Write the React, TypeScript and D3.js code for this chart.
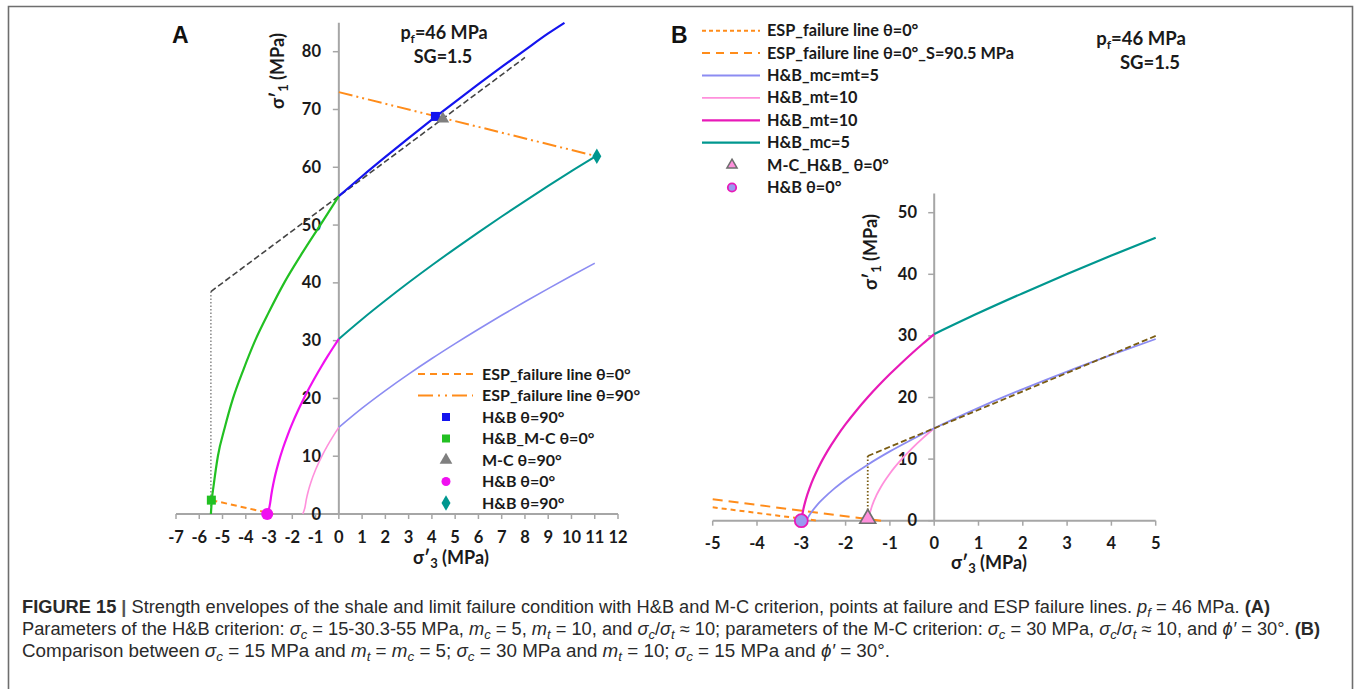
import React from "react";
import * as d3 from "d3";

type P = [number, number];

// ---------- ticks ----------
const xTicksA = [-7, -6, -5, -4, -3, -2, -1, 0, 1, 2, 3, 4, 5, 6, 7, 8, 9, 10, 11, 12];
const yTicksA = [0, 10, 20, 30, 40, 50, 60, 70, 80];
const xTicksB = [-5, -4, -3, -2, -1, 0, 1, 2, 3, 4, 5];
const yTicksB = [0, 10, 20, 30, 40, 50];

// ---------- panel A series (σ'3, σ'1) ----------
const hbBlueA: P[] = [[0, 55], [1, 58.45], [2, 61.79], [3, 65.05], [4, 68.23], [5, 71.33], [6, 74.37], [7, 77.36], [8, 80.28], [9, 83.16], [9.7, 85]];
const hbGreenA: P[] = [[-5.5, 0], [-5.46, 2.4], [-5.38, 5], [-5.2, 10], [-4.9, 15], [-4.55, 20], [-4.1, 25], [-3.6, 30], [-3.0, 35], [-2.35, 40], [-1.6, 45], [-0.8, 50], [0, 55]];
const hbTealA: P[] = [[0, 30.3], [1, 33.71], [2, 36.94], [3, 40.05], [4, 43.04], [5, 45.93], [6, 48.74], [7, 51.48], [8, 54.15], [9, 56.77], [10, 59.32], [11.09, 62.0]];
const hbMagentaA: P[] = [[-3.05, 0], [-2.95, 1.97], [-2.9, 3.38], [-2.8, 5.55], [-2.6, 8.81], [-2.4, 11.42], [-2.2, 13.66], [-2.0, 15.67], [-1.75, 17.94], [-1.5, 20.03], [-1.25, 21.97], [-1.0, 23.8], [-0.75, 25.53], [-0.5, 27.19], [-0.25, 28.77], [0, 30.3]];
const hbPinkA: P[] = [[-1.55, 0], [-1.45, 1.29], [-1.4, 2.47], [-1.3, 4.18], [-1.2, 5.51], [-1.0, 7.66], [-0.75, 9.86], [-0.5, 11.75], [-0.25, 13.44], [0, 15]];
const hbLavenderA: P[] = [[0, 15], [1, 18.32], [2, 21.36], [3, 24.21], [4, 26.91], [5, 29.49], [6, 31.98], [7, 34.39], [8, 36.72], [9, 39.0], [10, 41.22], [11, 43.4]];
const mcLineA: P[] = [[-5.5, 38.5], [8.0, 79.0]];
const mcDropA: P[] = [[-5.5, 38.5], [-5.5, 0]];
const espTheta90A: P[] = [[0, 73], [11.09, 61.9]];
const espTheta0A: P[] = [[-5.48, 2.4], [-2.82, 0]];
const hbSquare90A: P = [4.15, 68.8];
const hbMcSquare0A: P = [-5.48, 2.4];
const mcTriangle90A: P = [4.47, 68.4];
const hbCircle0A: P = [-3.08, 0];
const hbDiamond90A: P = [11.09, 61.9];

// ---------- panel B series ----------
const espShortB: P[] = [[-5, 2.17], [-2.62, 0]];
const espLongB: P[] = [[-5, 3.47], [-1.2, 0]];
const hbLavenderB: P[] = [[-2.89, 0], [-2.8, 1.07], [-2.65, 2.5], [-2.5, 3.62], [-2.25, 5.25], [-2, 6.66], [-1.5, 9.1], [-1, 11.25], [-0.5, 13.19], [0, 15], [1, 18.32], [2, 21.36], [3, 24.21], [4, 26.91], [5, 29.49]];
const hbPinkB: P[] = [[-1.5, 0], [-1.45, 1.29], [-1.4, 2.47], [-1.3, 4.18], [-1.2, 5.51], [-1.0, 7.66], [-0.75, 9.86], [-0.5, 11.75], [-0.25, 13.44], [0, 15]];
const hbMagentaB: P[] = [[-3.0, 0], [-2.95, 1.97], [-2.9, 3.38], [-2.8, 5.55], [-2.6, 8.81], [-2.4, 11.42], [-2.2, 13.66], [-2.0, 15.67], [-1.75, 17.94], [-1.5, 20.03], [-1.25, 21.97], [-1.0, 23.8], [-0.75, 25.53], [-0.5, 27.19], [-0.25, 28.77], [0, 30.3]];
const hbTealB: P[] = [[0, 30.3], [1, 33.71], [2, 36.94], [3, 40.05], [4, 43.04], [5, 45.93]];
const mcLineB: P[] = [[-1.5, 10.5], [5, 30]];
const mcDropB: P[] = [[-1.5, 10.5], [-1.5, 0]];
const mcTriangleB: P = [-1.5, 0];
const hbCircleB: P = [-3.0, 0];

// ---------- legend labels ----------
const legendLabelsA = ["ESP_failure line θ=0°", "ESP_failure line θ=90°", "H&B θ=90°", "H&B_M-C θ=0°", "M-C θ=90°", "H&B θ=0°", "H&B θ=90°"];
const legendLabelsB = ["ESP_failure line θ=0°", "ESP_failure line θ=0°_S=90.5 MPa", "H&B_mc=mt=5", "H&B_mt=10", "H&B_mt=10", "H&B_mc=5", "M-C_H&B_ θ=0°", "H&B θ=0°"];

const FONT = "Lato, 'Open Sans', sans-serif";
const CAP = "'Liberation Sans', Arial, sans-serif";
const AXIS = "#a6a6a6";
const TXT = "#1a1a1a";
const C = {
  blue: "#1414ee",
  green: "#22c022",
  magentaA: "#f010f0",
  magentaB: "#e81ab8",
  pink: "#ff90dc",
  lav: "#8c8cf2",
  teal: "#00978f",
  orange: "#ff8c1a",
  dark: "#444444",
  gray: "#7f7f7f",
  brown: "#7a5c12",
};

export default function App() {
  const xA = d3.scaleLinear().domain([-7, 12]).range([176, 618]);
  const yA = d3.scaleLinear().domain([0, 80]).range([514, 51.7]);
  const xB = d3.scaleLinear().domain([-5, 5]).range([712.7, 1155.7]);
  const yB = d3.scaleLinear().domain([0, 50]).range([520.7, 212.7]);

  const mk = (x: d3.ScaleLinear<number, number>, y: d3.ScaleLinear<number, number>, curved: boolean) =>
    d3.line<P>().x((d) => x(d[0])).y((d) => y(d[1])).curve(curved ? d3.curveMonotoneX : d3.curveLinear);
  const lA = mk(xA, yA, true);
  const lAs = mk(xA, yA, false);
  const lB = mk(xB, yB, true);
  const lBs = mk(xB, yB, false);

  const tri = d3.symbol().type(d3.symbolTriangle).size(70)()!;
  const triB = d3.symbol().type(d3.symbolTriangle).size(110)()!;
  const dia = d3.symbol().type(d3.symbolDiamond).size(70)()!;

  const axes = (
    x: d3.ScaleLinear<number, number>,
    y: d3.ScaleLinear<number, number>,
    xt: number[],
    yt: number[],
    yTop: number,
    labelRight: number,
    xLabY: number
  ) => {
    const [x0, x1] = x.range();
    return (
      <g>
        <line x1={x(0)} x2={x(0)} y1={y(0)} y2={y(yTop)} stroke={AXIS} strokeWidth={2} />
        <line x1={x0} x2={x1} y1={y(0)} y2={y(0)} stroke={AXIS} strokeWidth={2} />
        {xt.map((t) => (
          <g key={"x" + t}>
            <line x1={x(t)} x2={x(t)} y1={y(0)} y2={y(0) + 5} stroke={AXIS} strokeWidth={1.5} />
            <text x={x(t)} y={xLabY} textAnchor="middle" fontFamily={FONT} fontWeight={700} fontSize={16.5} fill={TXT}>
              {t}
            </text>
          </g>
        ))}
        {yt.map((t) => (
          <g key={"y" + t}>
            <line x1={x(0) - 6} x2={x(0)} y1={y(t)} y2={y(t)} stroke={AXIS} strokeWidth={1.5} />
            <text x={labelRight} y={y(t) + 5.5} textAnchor="end" fontFamily={FONT} fontWeight={700} fontSize={16.5} fill={TXT}>
              {t}
            </text>
          </g>
        ))}
      </g>
    );
  };

  const sigma = (sub: string) => (
    <>
      <tspan>σ′</tspan>
      <tspan fontSize={13} dy={4}>{sub}</tspan>
      <tspan dy={-4}> (MPa)</tspan>
    </>
  );

  const pf = (
    <>
      <tspan>p</tspan>
      <tspan fontSize={12} dy={4}>f</tspan>
      <tspan dy={-4}>=46 MPa</tspan>
    </>
  );

  // legends
  const legA0 = 374, legAStep = 21.5;
  const legB0 = 30.7, legBStep = 22.4;
  const sub = (s: string) => (
    <tspan fontStyle="italic" fontSize={12.5} dy={3.5}>{s}</tspan>
  );
  const up = (s: string) => <tspan dy={-3.5}>{s}</tspan>;

  return (
    <div style={{ position: "absolute", left: 0, top: 0 }}>
      <svg width={1354} height={689} style={{ display: "block", background: "#fff" }}>
        <path d="M8.5,689 V6.5 H1352.5 V689" fill="none" stroke="#6e6e6e" strokeWidth={1.6} />

        {/* ---------------- Panel A ---------------- */}
        <text x={172} y={43} fontFamily={CAP} fontWeight={700} fontSize={23} fill="#111">A</text>
        {axes(xA, yA, xTicksA, yTicksA, 85, 321, 543)}
        <text transform="rotate(-90)" x={-71} y={284} textAnchor="middle" fontFamily={FONT} fontWeight={700} fontSize={18} fill={TXT}>
          {sigma("1")}
        </text>
        <text x={451} y={564} textAnchor="middle" fontFamily={FONT} fontWeight={700} fontSize={18} fill={TXT}>
          {sigma("3")}
        </text>
        <text x={444} y={39} textAnchor="middle" fontFamily={FONT} fontWeight={700} fontSize={18} fill={TXT}>{pf}</text>
        <text x={443} y={63} textAnchor="middle" fontFamily={FONT} fontWeight={700} fontSize={18} fill={TXT}>SG=1.5</text>

        <path d={lAs(mcDropA)!} fill="none" stroke={C.gray} strokeWidth={1.4} strokeDasharray="1.5 2" />
        <path d={lAs(mcLineA)!} fill="none" stroke={C.dark} strokeWidth={1.6} strokeDasharray="6 3" />
        <path d={lA(hbLavenderA)!} fill="none" stroke={C.lav} strokeWidth={1.6} />
        <path d={lA(hbPinkA)!} fill="none" stroke={C.pink} strokeWidth={1.6} />
        <path d={lA(hbTealA)!} fill="none" stroke={C.teal} strokeWidth={2} />
        <path d={lA(hbMagentaA)!} fill="none" stroke={C.magentaA} strokeWidth={2.2} />
        <path d={lA(hbGreenA)!} fill="none" stroke={C.green} strokeWidth={2.2} />
        <path d={lA(hbBlueA)!} fill="none" stroke={C.blue} strokeWidth={2.2} />
        <path d={lAs(espTheta90A)!} fill="none" stroke={C.orange} strokeWidth={2} strokeDasharray="14 4 2 4 2 4" />
        <path d={lAs(espTheta0A)!} fill="none" stroke={C.orange} strokeWidth={2} strokeDasharray="6 4" />

        <rect x={xA(hbSquare90A[0]) - 4.5} y={yA(hbSquare90A[1]) - 4.5} width={9} height={9} fill={C.blue} />
        <path d={tri} transform={`translate(${xA(mcTriangle90A[0])},${yA(mcTriangle90A[1])})`} fill={C.gray} />
        <rect x={xA(hbMcSquare0A[0]) - 4.5} y={yA(hbMcSquare0A[1]) - 4.5} width={9} height={9} fill={C.green} />
        <circle cx={xA(hbCircle0A[0])} cy={yA(hbCircle0A[1])} r={6} fill={C.magentaA} />
        <path d={dia} transform={`translate(${xA(hbDiamond90A[0])},${yA(hbDiamond90A[1])})`} fill={C.teal} />

        {/* legend A */}
        {legendLabelsA.map((lab, i) => {
          const cy = legA0 + i * legAStep;
          let sym: React.ReactNode = null;
          if (i === 0) sym = <line x1={418} x2={473} y1={cy} y2={cy} stroke={C.orange} strokeWidth={2} strokeDasharray="7 5" />;
          else if (i === 1) sym = <line x1={418} x2={473} y1={cy} y2={cy} stroke={C.orange} strokeWidth={2} strokeDasharray="15 5 2 5 2 5" />;
          else if (i === 2) sym = <rect x={442} y={cy - 4} width={8} height={8} fill={C.blue} />;
          else if (i === 3) sym = <rect x={442} y={cy - 4} width={8} height={8} fill={C.green} />;
          else if (i === 4) sym = <path d={tri} transform={`translate(446,${cy})`} fill={C.gray} />;
          else if (i === 5) sym = <circle cx={446} cy={cy} r={4.5} fill={C.magentaA} />;
          else sym = <path d={dia} transform={`translate(446,${cy})`} fill={C.teal} />;
          return (
            <g key={"la" + i}>
              {sym}
              <text x={482} y={cy + 5.5} fontFamily={FONT} fontWeight={700} fontSize={16} fill={TXT}>{lab}</text>
            </g>
          );
        })}

        {/* ---------------- Panel B ---------------- */}
        <text x={671} y={43} fontFamily={CAP} fontWeight={700} fontSize={23} fill="#111">B</text>
        {axes(xB, yB, xTicksB, yTicksB, 53.1, 917, 549)}
        <text transform="rotate(-90)" x={-252} y={877} textAnchor="middle" fontFamily={FONT} fontWeight={700} fontSize={18} fill={TXT}>
          {sigma("1")}
        </text>
        <text x={989} y={569} textAnchor="middle" fontFamily={FONT} fontWeight={700} fontSize={18} fill={TXT}>
          {sigma("3")}
        </text>
        <text x={1141} y={45} textAnchor="middle" fontFamily={FONT} fontWeight={700} fontSize={18.5} fill={TXT}>{pf}</text>
        <text x={1150} y={69} textAnchor="middle" fontFamily={FONT} fontWeight={700} fontSize={18.5} fill={TXT}>SG=1.5</text>

        <path d={lBs(espShortB)!} fill="none" stroke={C.orange} strokeWidth={2} strokeDasharray="5 4" />
        <path d={lBs(espLongB)!} fill="none" stroke={C.orange} strokeWidth={2} strokeDasharray="10 6" />
        <path d={lBs(mcDropB)!} fill="none" stroke={C.brown} strokeWidth={1.8} strokeDasharray="1.5 2" />
        <path d={lB(hbPinkB)!} fill="none" stroke={C.pink} strokeWidth={1.8} />
        <path d={lB(hbLavenderB)!} fill="none" stroke={C.lav} strokeWidth={1.8} />
        <path d={lBs(mcLineB)!} fill="none" stroke={C.brown} strokeWidth={1.8} strokeDasharray="6 3" />
        <path d={lB(hbMagentaB)!} fill="none" stroke={C.magentaB} strokeWidth={2.2} />
        <path d={lB(hbTealB)!} fill="none" stroke={C.teal} strokeWidth={2.2} />

        <path d={triB} transform={`translate(${xB(mcTriangleB[0])},${yB(mcTriangleB[1]) - 2})`} fill={C.pink} stroke="#6e6e6e" strokeWidth={1.6} />
        <circle cx={xB(hbCircleB[0])} cy={yB(hbCircleB[1])} r={6.5} fill="#9a9af0" stroke={C.magentaB} strokeWidth={1.8} />

        {/* legend B */}
        {legendLabelsB.map((lab, i) => {
          const cy = legB0 + i * legBStep;
          let sym: React.ReactNode = null;
          const ln = (color: string, dash?: string, w = 2) => (
            <line x1={702} x2={760} y1={cy} y2={cy} stroke={color} strokeWidth={w} strokeDasharray={dash} />
          );
          if (i === 0) sym = ln(C.orange, "4 3");
          else if (i === 1) sym = ln(C.orange, "8 6");
          else if (i === 2) sym = ln(C.lav, undefined, 1.8);
          else if (i === 3) sym = ln(C.pink, undefined, 1.8);
          else if (i === 4) sym = ln(C.magentaB, undefined, 2.2);
          else if (i === 5) sym = ln(C.teal, undefined, 2.2);
          else if (i === 6) sym = <path d={d3.symbol().type(d3.symbolTriangle).size(45)()!} transform={`translate(732,${cy})`} fill={C.pink} stroke="#6e6e6e" strokeWidth={1.5} />;
          else sym = <circle cx={732} cy={cy} r={4.2} fill="#9a9af0" stroke={C.magentaB} strokeWidth={1.8} />;
          return (
            <g key={"lb" + i}>
              {sym}
              <text x={767} y={cy + 5.5} fontFamily={FONT} fontWeight={700} fontSize={16.3} fill={TXT}>{lab}</text>
            </g>
          );
        })}

        {/* ---------------- caption ---------------- */}
        <g fontFamily={CAP} fontSize={17.5} fill="#2a2a2a">
          <text x={22} y={613} textLength={1248} lengthAdjust="spacingAndGlyphs">
            <tspan fontWeight={700}>FIGURE 15 </tspan>
            <tspan fontWeight={700} fill="#555">| </tspan>
            <tspan>Strength envelopes of the shale and limit failure condition with H&amp;B and M-C criterion, points at failure and ESP failure lines. </tspan>
            <tspan fontStyle="italic">p</tspan>
            {sub("f")}
            {up(" = 46 MPa. ")}
            <tspan fontWeight={700}>(A)</tspan>
          </text>
          <text x={22} y={635} textLength={1298} lengthAdjust="spacingAndGlyphs">
            <tspan>Parameters of the H&amp;B criterion: </tspan>
            <tspan fontStyle="italic">σ</tspan>{sub("c")}{up(" = 15-30.3-55 MPa, ")}
            <tspan fontStyle="italic">m</tspan>{sub("c")}{up(" = 5, ")}
            <tspan fontStyle="italic">m</tspan>{sub("t")}{up(" = 10, and ")}
            <tspan fontStyle="italic">σ</tspan>{sub("c")}{up("/")}
            <tspan fontStyle="italic">σ</tspan>{sub("t")}{up(" ≈ 10; parameters of the M-C criterion: ")}
            <tspan fontStyle="italic">σ</tspan>{sub("c")}{up(" = 30 MPa, ")}
            <tspan fontStyle="italic">σ</tspan>{sub("c")}{up("/")}
            <tspan fontStyle="italic">σ</tspan>{sub("t")}{up(" ≈ 10, and ")}
            <tspan fontStyle="italic">ϕ′</tspan>
            <tspan> = 30°. </tspan>
            <tspan fontWeight={700}>(B)</tspan>
          </text>
          <text x={22} y={657} textLength={868} lengthAdjust="spacingAndGlyphs">
            <tspan>Comparison between </tspan>
            <tspan fontStyle="italic">σ</tspan>{sub("c")}{up(" = 15 MPa and ")}
            <tspan fontStyle="italic">m</tspan>{sub("t")}{up(" = ")}
            <tspan fontStyle="italic">m</tspan>{sub("c")}{up(" = 5; ")}
            <tspan fontStyle="italic">σ</tspan>{sub("c")}{up(" = 30 MPa and ")}
            <tspan fontStyle="italic">m</tspan>{sub("t")}{up(" = 10; ")}
            <tspan fontStyle="italic">σ</tspan>{sub("c")}{up(" = 15 MPa and ")}
            <tspan fontStyle="italic">ϕ′</tspan>
            <tspan> = 30°.</tspan>
          </text>
        </g>
      </svg>
    </div>
  );
}
